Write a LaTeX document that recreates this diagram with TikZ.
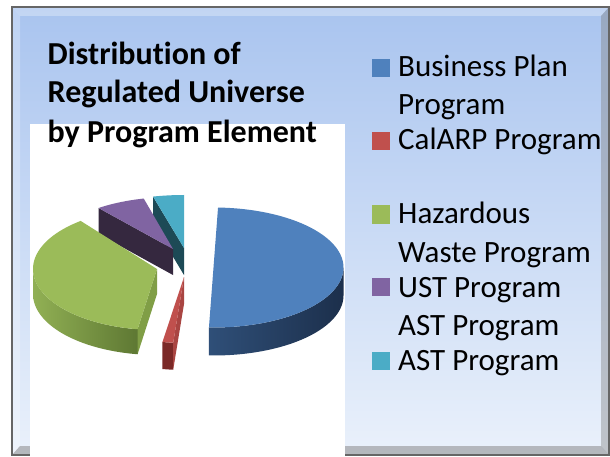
\documentclass[tikz,border=0pt]{standalone}
\usepackage{fontspec}
\setmainfont{Carlito}[Ligatures=NoCommon]
\usetikzlibrary{positioning}
\definecolor{bpblue}{HTML}{4F81BD}
\definecolor{bpblueA}{HTML}{2F4F78}
\definecolor{bpblueB}{HTML}{1C2F4B}
\definecolor{crred}{HTML}{C0504D}
\definecolor{crredA}{HTML}{7B2927}
\definecolor{crredB}{HTML}{A94542}
\definecolor{hwgreen}{HTML}{9BBB59}
\definecolor{hwgreenA}{HTML}{91B054}
\definecolor{hwgreenB}{HTML}{5E7833}
\definecolor{hwgreenC}{HTML}{809E46}
\definecolor{ustpurple}{HTML}{8064A2}
\definecolor{ustpurpleA}{HTML}{35283F}
\definecolor{astcyan}{HTML}{4BACC6}
\definecolor{astcyanA}{HTML}{1D4A56}
\definecolor{frtop}{HTML}{A9C4EF}
\definecolor{frbot}{HTML}{EAF1FB}
\tikzset{legsq/.style = {fill=#1, minimum size=18, inner sep=0}}
\tikzset{legtxt/.style = {anchor=base west, inner sep=0, font=\fontsize{31}{37}\selectfont}}
\tikzset{ttl/.style = {anchor=base west, inner sep=0, font=\fontsize{32}{38}\selectfont\bfseries}}

\begin{document}
\begin{tikzpicture}[x=1pt, y=-1pt]
      \useasboundingbox (0, 0) rectangle (610, 457);

      % frame
      \shade [top color=frtop, bottom color=frbot] (12, 7) rectangle (609, 455);
      \fill [white, opacity=0.3] (12, 7) -- (609, 7) -- (601, 16) -- (20, 16) -- cycle;
      \fill [white, opacity=0.25] (12, 7) -- (20, 16) -- (20, 446) -- (12, 455) -- cycle;
      \fill [gray, opacity=0.5] (12, 455) -- (20, 446) -- (601, 446) -- (609, 455) -- cycle;
      \fill [gray, opacity=0.4] (609, 7) -- (601, 16) -- (601, 446) -- (609, 455) -- cycle;
      \draw [gray!80!black, line width=1.5] (12, 7) rectangle (609, 455);

      \fill [white] (30, 124) rectangle (345, 457);

      % title
      \node [ttl] (ttlA) at (47.5, 65) {Distribution of};
      \node [ttl] (ttlB) at (47.5, 103) {Regulated Universe};
      \node [ttl] (ttlC) at (47.5, 143) {by Program Element};

      % cyan slice
      \fill [astcyanA] (184, 248) -- (153, 196.6) -- (153, 223.6) -- (184, 275) -- cycle;
      \fill [astcyan] (184, 248) -- plot [domain=90:104, samples=20] ({184+128*cos(\x)}, {248-53*sin(\x)}) -- cycle;

      % purple slice
      \fill [ustpurpleA] (173, 249) -- (98.5, 208) -- (98.5, 234) -- (173, 275) -- cycle;
      \fill [ustpurple] (173, 249) -- plot [domain=104:128, samples=20] ({173+121*cos(\x)}, {249-52*sin(\x)}) -- cycle;

      % green slice
      \shade [left color=hwgreenA, right color=hwgreenB]
        plot [domain=180:261, samples=50] ({157+124*cos(\x)}, {269-61*sin(\x)})
        -- plot [domain=261:180, samples=50] ({157+124*cos(\x)}, {294-61*sin(\x)}) -- cycle;
      \fill [hwgreenC] (157, 269) -- (137.6, 329.2) -- (137.6, 354.2) -- (157, 294) -- cycle;
      \fill [hwgreen] (157, 269) -- plot [domain=128:261, samples=60] ({157+124*cos(\x)}, {269-61*sin(\x)}) -- cycle;

      % red slice
      \fill [crredA] plot [domain=260:265, samples=8] ({184+124*cos(\x)}, {277-66*sin(\x)})
        -- plot [domain=265:260, samples=8] ({184+124*cos(\x)}, {304-66*sin(\x)}) -- cycle;
      \fill [crredB] (184, 277) -- (173.2, 342.7) -- (173.2, 369.7) -- (184, 304) -- cycle;
      \fill [crred] (184, 277) -- plot [domain=260:265, samples=8] ({184+124*cos(\x)}, {277-66*sin(\x)}) -- cycle;

      % blue slice
      \shade [left color=bpblueA, right color=bpblueB]
        plot [domain=-92:0, samples=60] ({213.5+130*cos(\x)}, {267.5-60*sin(\x)})
        -- plot [domain=0:-92, samples=60] ({213.5+130*cos(\x)}, {295.5-60*sin(\x)}) -- cycle;
      \fill [bpblue] (213.5, 267.5) -- plot [domain=-92:88, samples=90] ({213.5+130*cos(\x)}, {267.5-60*sin(\x)}) -- cycle;

      % legend
      \node [legsq=bpblue] (sqBP) at (380.5, 68) {};
      \node [legsq=crred] (sqCR) at (380.5, 141.5) {};
      \node [legsq=hwgreen] (sqHW) at (380.5, 214.5) {};
      \node [legsq=ustpurple] (sqUS) at (380.5, 287) {};
      \node [legsq=astcyan] (sqAS) at (380.5, 361) {};

      \node [legtxt] (txBPa) at (398, 77) {Business Plan};
      \node [legtxt] (txBPb) at (398, 115) {Program};
      \node [legtxt] (txCR) at (398, 150) {CalARP Program};
      \node [legtxt] (txHWa) at (398, 223) {Hazardous};
      \node [legtxt] (txHWb) at (398, 262) {Waste Program};
      \node [legtxt] (txUSa) at (398, 297) {UST Program};
      \node [legtxt] (txUSb) at (398, 335) {AST Program};
      \node [legtxt] (txAS) at (398, 370) {AST Program};
    \end{tikzpicture}
\end{document}
